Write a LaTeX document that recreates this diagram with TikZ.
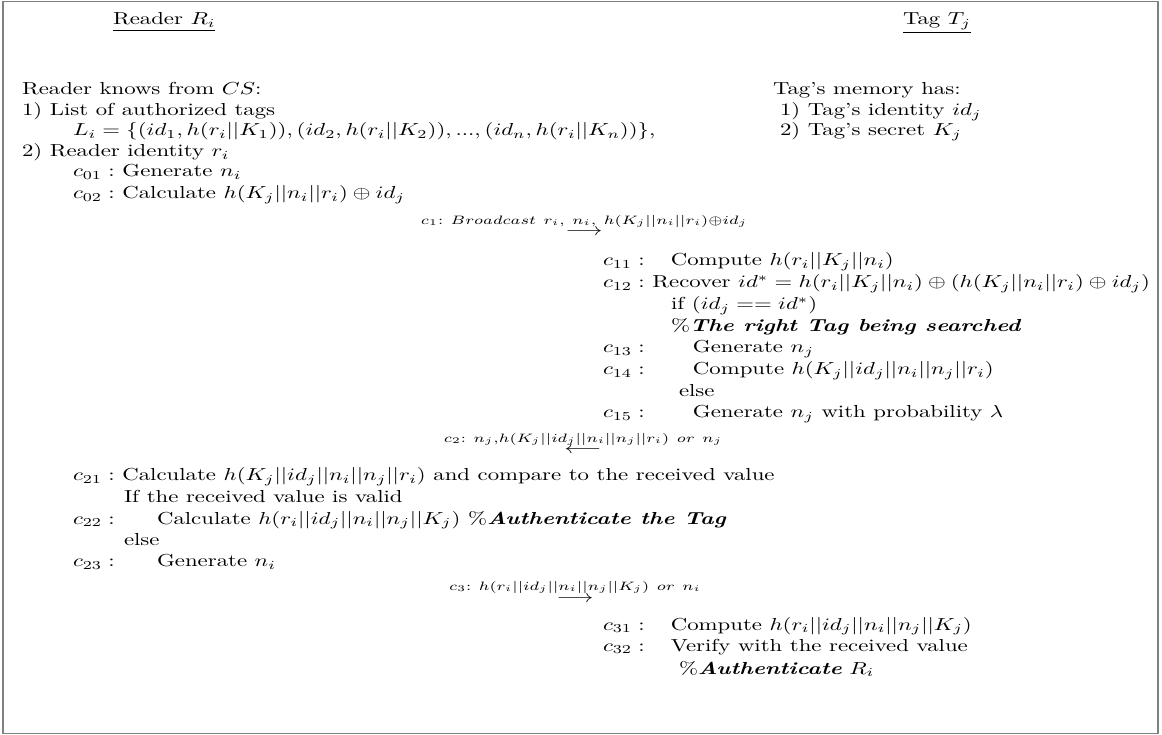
\documentclass[tikz,border=0pt]{standalone}
\usepackage{amsmath,amssymb}
\begin{document}
\begin{tikzpicture}[x=0.575pt,y=-0.575pt,
  txt/.style={anchor=base west,inner sep=0pt,outer sep=0pt,xscale=1.31},
  msg/.style={anchor=base,inner sep=0pt,outer sep=0pt,xscale=1.31},
  frame/.style={draw=black!50,line width=1.1pt}]
\path[use as bounding box] (0,0) rectangle (1162,735);
\draw[frame] (3,1.5) rectangle (1158,733.5);
% headers
\node[txt] (rd) at (113,25) {\underline{Reader $R_i$}};
\node[txt] (tg) at (903,25) {\underline{Tag $T_j$}};
% reader knowledge
\node[txt] (k0) at (22,95) {Reader knows from $CS$:};
\node[txt] (k1) at (22,116) {1) List of authorized tags};
\node[txt] (k2) at (73,136) {$L_i=\{(id_1,h(r_i||K_1)),(id_2,h(r_i||K_2)),...,(id_n,h(r_i||K_n))\}$,};
\node[txt] (k3) at (22,157) {2) Reader identity $r_i$};
\node[txt] (c01) at (73,177) {$c_{01}:$ Generate $n_i$};
\node[txt] (c02) at (73,199) {$c_{02}:$ Calculate $h(K_j||n_i||r_i)\oplus id_j$};
% tag memory
\node[txt] (m0) at (773,95) {Tag's memory has:};
\node[txt] (m1) at (780,116) {1) Tag's identity $id_j$};
\node[txt] (m2) at (780,136) {2) Tag's secret $K_j$};
% message 1
\node[msg] (c1) at (584,236) {$\stackrel{c_1{:}\ Broadcast\ r_i,\ n_i,\ h(K_j||n_i||r_i)\oplus id_j}{\longrightarrow}$};
% tag computation
\node[txt] (c11) at (603,266) {\makebox[29.8pt][l]{$c_{11}:$}Compute $h(r_i||K_j||n_i)$};
\node[txt] (c12) at (603,288) {$c_{12}:$ Recover $id^*=h(r_i||K_j||n_i)\oplus(h(K_j||n_i||r_i)\oplus id_j)$};
\node[txt] (if1) at (671,310) {if $(id_j==id^*)$};
\node[txt] (cm1) at (671,332) {\%\textbf{\textit{The right Tag being searched}}};
\node[txt] (c13) at (603,353) {\makebox[39.5pt][l]{$c_{13}:$}Generate $n_j$};
\node[txt] (c14) at (603,375) {\makebox[39.5pt][l]{$c_{14}:$}Compute $h(K_j||id_j||n_i||n_j||r_i)$};
\node[txt] (el1) at (679,397) {else};
\node[txt] (c15) at (603,418) {\makebox[39.5pt][l]{$c_{15}:$}Generate $n_j$ with probability $\lambda$};
% message 2
\node[msg] (c2) at (583,454) {$\stackrel{c_2{:}\ n_j,h(K_j||id_j||n_i||n_j||r_i)\ or\ n_j}{\longleftarrow}$};
% reader verification
\node[txt] (c21) at (73,481) {$c_{21}:$ Calculate $h(K_j||id_j||n_i||n_j||r_i)$ and compare to the received value};
\node[txt] (if2) at (124,502) {If the received value is valid};
\node[txt] (c22) at (73,524) {\makebox[36.9pt][l]{$c_{22}:$}Calculate $h(r_i||id_j||n_i||n_j||K_j)$ \%\textbf{\textit{Authenticate the Tag}}};
\node[txt] (el2) at (124,545) {else};
\node[txt] (c23) at (73,567) {\makebox[36.9pt][l]{$c_{23}:$}Generate $n_i$};
% message 3
\node[msg] (c3) at (575,602) {$\stackrel{c_3{:}\ h(r_i||id_j||n_i||n_j||K_j)\ or\ n_i}{\longrightarrow}$};
% tag verification
\node[txt] (c31) at (603,630) {\makebox[29.8pt][l]{$c_{31}:$}Compute $h(r_i||id_j||n_i||n_j||K_j)$};
\node[txt] (c32) at (603,651) {\makebox[29.8pt][l]{$c_{32}:$}Verify with the received value};
\node[txt] (cm2) at (679,674) {\%\textbf{\textit{Authenticate}} $R_i$};
\end{tikzpicture}
\end{document}
